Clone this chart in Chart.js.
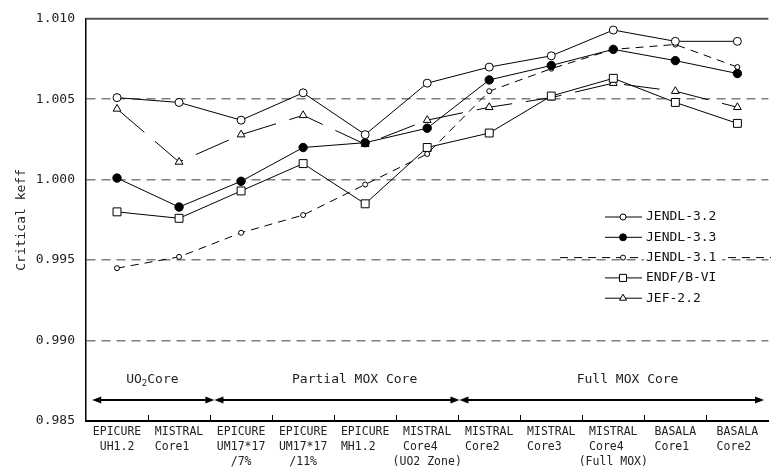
<!DOCTYPE html>
<html>
<head>
<meta charset="utf-8">
<script src="https://cdn.jsdelivr.net/npm/chart.js@4.4.0/dist/chart.umd.min.js"></script>
<style>
html, body { margin: 0; padding: 0; overflow: hidden; background: #fff; }
canvas { display: block; }
</style>
</head>
<body>
<canvas id="keffChart" width="775" height="472"></canvas>
<script>
// categories (trailing spaces keep second lines left-aligned in the mono font)
var categories = [
    ['EPICURE', 'UH1.2'],
    ['MISTRAL', 'Core1  '],
    ['EPICURE', 'UM17*17', '/7%'],
    ['EPICURE', 'UM17*17', '/11%'],
    ['EPICURE', 'MH1.2  '],
    ['MISTRAL', 'Core4  ', '(UO2 Zone)'],
    ['MISTRAL', 'Core2  '],
    ['MISTRAL', 'Core3  '],
    ['MISTRAL', 'Core4  ', '(Full MOX)'],
    ['BASALA', 'Core1 '],
    ['BASALA', 'Core2 ']
];

var jendl32 = [1.0051, 1.0048, 1.0037, 1.0054, 1.0028, 1.0060, 1.0070, 1.0077, 1.0093, 1.0086, 1.0086];
var jendl33 = [1.0001, 0.9983, 0.9999, 1.0020, 1.0023, 1.0032, 1.0062, 1.0071, 1.0081, 1.0074, 1.0066];
var jendl31 = [0.9945, 0.9952, 0.9967, 0.9978, 0.9997, 1.0016, 1.0055, 1.0069, 1.0081, 1.0084, 1.0070];
var endfb6  = [0.9980, 0.9976, 0.9993, 1.0010, 0.9985, 1.0020, 1.0029, 1.0052, 1.0063, 1.0048, 1.0035];
var jef22   = [1.0044, 1.0011, 1.0028, 1.0040, 1.0022, 1.0037, 1.0045, 1.0051, 1.0060, 1.0055, 1.0045];

var yTicks = [0.985, 0.990, 0.995, 1.000, 1.005, 1.010];

// core groups along the x axis (in category index units)
var groupNames = ['UO2Core', 'Partial MOX Core', 'Full MOX Core'];
var groupLabelAt = [0.57, 3.83, 8.23];
var groupArrowStops = [-0.4, 1.57, 5.52, 10.43];

Chart.defaults.font.family = '"DejaVu Sans Mono", monospace';
Chart.defaults.color = '#222';

function arrowHead(ctx, x, y, dir) {
    ctx.beginPath();
    ctx.moveTo(x, y);
    ctx.lineTo(x - dir * 9, y - 3.5);
    ctx.lineTo(x - dir * 9, y + 3.5);
    ctx.closePath();
    ctx.fill();
}

var annotate = {
    id: 'annotate',
    beforeDatasetsDraw: function (chart) {
        var ctx = chart.ctx, a = chart.chartArea;
        ctx.save();
        ctx.strokeStyle = '#555';
        ctx.lineWidth = 2;
        ctx.beginPath();
        ctx.moveTo(a.left, a.top);
        ctx.lineTo(a.right, a.top);
        ctx.stroke();
        ctx.restore();
    },
    afterDraw: function (chart) {
        var ctx = chart.ctx, a = chart.chartArea, xs = chart.scales.x;
        ctx.save();

        // inward tick marks between categories
        ctx.strokeStyle = '#000';
        ctx.lineWidth = 1;
        for (var i = 0; i < categories.length - 1; i++) {
            var px = Math.round(xs.getPixelForValue(i + 0.5)) + 0.5;
            ctx.beginPath();
            ctx.moveTo(px, a.bottom);
            ctx.lineTo(px, a.bottom - 6);
            ctx.stroke();
        }

        // group arrows
        var ay = a.bottom - 21;
        ctx.fillStyle = '#000';
        ctx.lineWidth = 2;
        for (var g = 0; g < groupNames.length; g++) {
            var x1 = xs.getPixelForValue(groupArrowStops[g]);
            var x2 = xs.getPixelForValue(groupArrowStops[g + 1]);
            ctx.beginPath();
            ctx.moveTo(x1 + 4, ay);
            ctx.lineTo(x2 - 4, ay);
            ctx.stroke();
            arrowHead(ctx, x1, ay, -1);
            arrowHead(ctx, x2, ay, 1);
        }

        // group labels
        var ly = a.bottom - 41;
        ctx.fillStyle = '#222';
        ctx.textBaseline = 'middle';
        ctx.font = '13px "DejaVu Sans Mono"';
        for (g = 1; g < groupNames.length; g++) {
            ctx.textAlign = 'center';
            ctx.fillText(groupNames[g], xs.getPixelForValue(groupLabelAt[g]), ly);
        }
        // UO2Core with subscript
        ctx.textAlign = 'left';
        var w1 = ctx.measureText('UO').width, w3 = ctx.measureText('Core').width;
        ctx.font = '9px "DejaVu Sans Mono"';
        var w2 = ctx.measureText('2').width;
        var sx = xs.getPixelForValue(groupLabelAt[0]) - (w1 + w2 + w3) / 2;
        ctx.font = '13px "DejaVu Sans Mono"';
        ctx.fillText('UO', sx, ly);
        ctx.font = '9px "DejaVu Sans Mono"';
        ctx.fillText('2', sx + w1, ly + 4);
        ctx.font = '13px "DejaVu Sans Mono"';
        ctx.fillText('Core', sx + w1 + w2, ly);

        // legend
        var helpers = Chart.helpers;
        chart.data.datasets.forEach(function (ds, k) {
            var y = 217 + k * 20.3;
            ctx.strokeStyle = '#000';
            ctx.lineWidth = 1;
            if (ds.borderDash && ds.borderDash[0] < 10) {
                ctx.setLineDash(ds.borderDash);
                ctx.beginPath();
                ctx.moveTo(560, y);
                ctx.lineTo(chart.width, y);
                ctx.stroke();
                ctx.setLineDash([]);
                ctx.fillStyle = '#fff';
                ctx.fillRect(644, y - 8, 78, 16);
            } else {
                ctx.beginPath();
                ctx.moveTo(605, y);
                ctx.lineTo(642, y);
                ctx.stroke();
            }
            ctx.fillStyle = ds.pointBackgroundColor;
            ctx.strokeStyle = '#000';
            helpers.drawPoint(ctx, {pointStyle: ds.pointStyle, radius: ds.legendRadius, borderWidth: 1, rotation: 0}, 623, y);
            ctx.fillStyle = '#111';
            ctx.font = '13px "DejaVu Sans Mono"';
            ctx.textAlign = 'left';
            ctx.textBaseline = 'middle';
            ctx.fillText(ds.label, 646, y);
        });

        ctx.restore();
    }
};

function series(label, data, style, radius, legendRadius, fill, dash) {
    return {
        label: label,
        data: data,
        borderColor: '#000',
        borderWidth: 1,
        borderDash: dash,
        tension: 0,
        fill: false,
        pointStyle: style,
        pointRadius: radius,
        pointBackgroundColor: fill,
        pointBorderColor: '#000',
        pointBorderWidth: 1,
        legendRadius: legendRadius
    };
}

new Chart(document.getElementById('keffChart'), {
    type: 'line',
    data: {
        labels: categories,
        datasets: [
            series('JENDL-3.2', jendl32, 'circle', 4, 3, '#fff', []),
            series('JENDL-3.3', jendl33, 'circle', 4.2, 3.5, '#000', []),
            series('JENDL-3.1', jendl31, 'circle', 2.5, 2.5, '#fff', [8, 6]),
            series('ENDF/B-VI', endfb6, 'rect', 5.6, 5, '#fff', []),
            series('JEF-2.2', jef22, 'triangle', 4.5, 4, '#fff', [36, 14])
        ]
    },
    options: {
        responsive: false,
        animation: false,
        layout: { padding: { top: 16, right: 1, left: 0, bottom: 0 } },
        plugins: {
            legend: { display: false },
            tooltip: { enabled: false }
        },
        scales: {
            x: {
                offset: true,
                grid: { display: false, drawTicks: false },
                border: { color: '#000', width: 2 },
                ticks: {
                    autoSkip: false,
                    maxRotation: 0,
                    minRotation: 0,
                    padding: 3.5,
                    color: '#222',
                    font: { size: 11.5, lineHeight: 1.3 }
                },
                afterFit: function (s) { s.height = 51; }
            },
            y: {
                min: 0.985,
                max: 1.010,
                afterBuildTicks: function (s) {
                    s.ticks = yTicks.map(function (v) { return { value: v }; });
                },
                grid: {
                    drawTicks: false,
                    lineWidth: 1.5,
                    color: function (c) {
                        if (!c.tick) return '#7f7f7f';
                        var v = c.tick.value;
                        return (Math.abs(v - 0.985) < 1e-9 || Math.abs(v - 1.010) < 1e-9) ? 'rgba(0,0,0,0)' : '#7f7f7f';
                    }
                },
                border: { color: '#000', width: 1.5, dash: [9, 6] },
                ticks: {
                    padding: 11,
                    color: '#222',
                    font: { size: 13 },
                    callback: function (v) { return Number(v).toFixed(3); }
                },
                title: {
                    display: true,
                    text: 'Critical keff',
                    color: '#222',
                    font: { size: 13 },
                    padding: { top: 14, bottom: 0 }
                },
                afterFit: function (s) { s.width = 86; }
            }
        }
    },
    plugins: [annotate]
});
</script>
</body>
</html>
